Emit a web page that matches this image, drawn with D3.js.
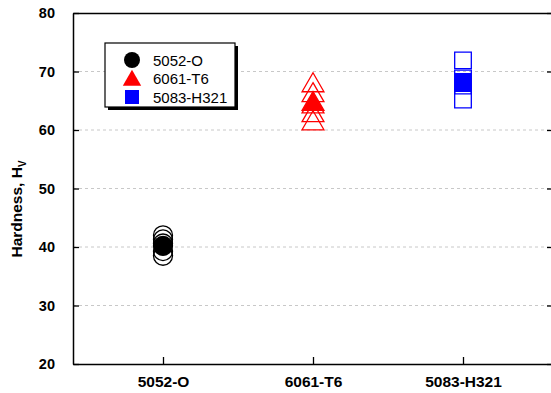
<!DOCTYPE html>
<html>
<head>
<meta charset="utf-8">
<script src="https://cdn.jsdelivr.net/npm/d3@7"></script>
<style>
  body { margin: 0; background: #fff; }
  svg { display: block; font-family: "Liberation Sans", Arial, sans-serif; }
</style>
</head>
<body>
<div id="chart"></div>
<script>
// categories and hardness readings (Hv)
var categories = ["5052-O", "6061-T6", "5083-H321"];
var seriesNames = ["5052-O", "6061-T6", "5083-H321"];
var colors = ["#000000", "#ff0000", "#0000ff"];
var shapes = ["circle", "triangle", "square"];
var measured_5052 = [38.5, 39.3, 40.6, 41.3, 42.0];
var measured_6061 = [61.5, 62.9, 64.4, 66.3, 68.0];
var measured_5083 = [65.2, 67.6, 68.8, 71.9];
var means = [40.2, 64.8, 68.2];
var yTicks = [20, 30, 40, 50, 60, 70, 80];

var measured = [measured_5052, measured_6061, measured_5083];

//dimensions of plot frame
var width = 551;
var height = 393;
var plotL = 73, plotR = 553, plotT = 13, plotB = 364;

var svg = d3.select("#chart").append("svg")
    .attr("width", width)
    .attr("height", height);

var x = d3.scalePoint()
    .domain(categories)
    .range([plotL, plotR])
    .padding(0.6);

var y = d3.scaleLinear()
    .domain([20, 80])
    .range([plotB, plotT]);

// dashed grid lines
svg.append("g")
  .selectAll("line")
    .data(yTicks.filter(d => d > 20 && d < 80))
    .enter().append("line")
      .attr("x1", plotL).attr("x2", plotR)
      .attr("y1", d => y(d)).attr("y2", d => y(d))
      .style("stroke", "#c8c8c8")
      .style("stroke-width", 1)
      .style("stroke-dasharray", "3,3");

// axes (ticks point inward)
var yAx = svg.append("g")
    .attr("transform", "translate(" + plotL + ",0)")
    .call(d3.axisLeft(y).tickValues(yTicks).tickSizeInner(-6).tickSizeOuter(0).tickPadding(18));

svg.append("g")
    .attr("transform", "translate(" + plotR + ",0)")
    .call(d3.axisRight(y).tickValues(yTicks).tickSizeInner(-6).tickSizeOuter(0).tickFormat(""));

var xAx = svg.append("g")
    .attr("transform", "translate(0," + plotB + ")")
    .call(d3.axisBottom(x).tickSizeInner(-7).tickSizeOuter(0).tickPadding(12));

svg.append("g")
    .attr("transform", "translate(0," + plotT + ")")
    .call(d3.axisTop(x).tickSize(0).tickFormat(""));

svg.selectAll(".domain").style("stroke", "#000").style("stroke-width", 1.5);
svg.selectAll(".tick line").style("stroke", "#000").style("stroke-width", 1.3);
svg.selectAll(".tick text")
    .style("font-weight", "bold")
    .style("font-family", "'Liberation Sans', Arial, sans-serif")
    .style("fill", "#000");
yAx.selectAll(".tick text").style("font-size", "14.5px");
xAx.selectAll(".tick text").style("font-size", "15.5px");

// axis title
svg.append("text")
    .attr("transform", "translate(22,209) rotate(-90)")
    .attr("text-anchor", "middle")
    .style("font-size", "15.5px")
    .style("font-weight", "bold")
    .text("Hardness, H")
  .append("tspan")
    .attr("dy", 4)
    .style("font-size", "10px")
    .text("V");

// marker path builder
function markerPath(shape, s) {
  if (shape == "circle") {
    return d3.symbol(d3.symbolCircle, Math.PI * s * s)();
  }
  if (shape == "triangle") {
    var w = s * 2.3, h = s * 2;
    return "M0," + (-h * 0.55) + "L" + (w / 2) + "," + (h * 0.45) + "L" + (-w / 2) + "," + (h * 0.45) + "Z";
  }
  var a = s * 1.75;
  return "M" + (-a / 2) + "," + (-a / 2) + "h" + a + "v" + a + "h" + (-a) + "Z";
}

// open markers for every reading, then filled mean on top
categories.forEach(function(c, i) {
  svg.append("g")
    .selectAll("path")
      .data(measured[i])
      .enter().append("path")
        .attr("transform", d => "translate(" + x(c) + "," + y(d) + ")")
        .attr("d", markerPath(shapes[i], 9.5))
        .style("fill", "none")
        .style("stroke", colors[i])
        .style("stroke-width", 1.3);

  svg.append("path")
    .attr("transform", "translate(" + x(c) + "," + y(means[i]) + ")")
    .attr("d", markerPath(shapes[i], 9.5))
    .style("fill", colors[i])
    .style("stroke", colors[i])
    .style("stroke-width", 1.3);
});

// legend with drop shadow
var lg = svg.append("g");
lg.append("rect")
    .attr("x", 108).attr("y", 46).attr("width", 130).attr("height", 64)
    .style("fill", "#000");
lg.append("rect")
    .attr("x", 105).attr("y", 43).attr("width", 130).attr("height", 64)
    .style("fill", "#fff")
    .style("stroke", "#000")
    .style("stroke-width", 1.2);

seriesNames.forEach(function(n, i) {
  var ly = 60 + i * 18.5;
  lg.append("path")
    .attr("transform", "translate(132," + ly + ")")
    .attr("d", markerPath(shapes[i], 8))
    .style("fill", colors[i]);
  lg.append("text")
    .attr("x", 153).attr("y", ly + 5.5)
    .style("font-size", "15px")
    .text(n);
});
</script>
</body>
</html>
